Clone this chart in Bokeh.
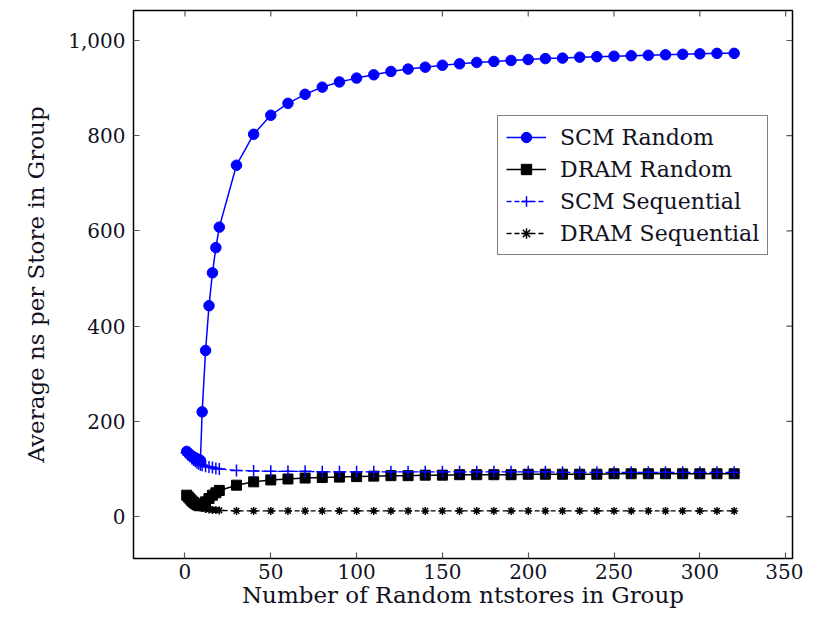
from bokeh.plotting import figure
from bokeh.models import Range1d, FixedTicker, NumeralTickFormatter
from bokeh.embed import file_html
from bokeh.resources import INLINE

# ---- data ----
x_small = [1, 2, 3, 4, 5, 6, 7, 8, 9, 10, 12, 14, 16, 18, 20]
x_large = [30, 40, 50, 60, 70, 80, 90, 100, 110, 120, 130, 140, 150, 160, 170,
           180, 190, 200, 210, 220, 230, 240, 250, 260, 270, 280, 290, 300, 310, 320]
x_vals = x_small + x_large

scm_random = [137, 133, 130, 127, 125, 123, 121, 120, 118, 220, 349, 443, 512, 565, 608,
              738, 803, 843, 868, 887, 902, 913, 921, 928, 935, 940, 944, 948, 951, 954,
              956, 958, 960, 962, 963, 965, 966, 967, 968, 969, 970, 971, 972, 973, 973]
dram_random = [45, 41, 37, 33, 30, 27, 25, 23, 23, 25, 31, 38, 45, 50, 55,
               66, 73, 77, 79, 81, 82, 83, 84, 85, 86, 86, 87, 87, 88, 88,
               88, 88, 89, 89, 89, 89, 89, 90, 90, 90, 90, 90, 90, 90, 90]
scm_seq = [134, 130, 126, 122, 119, 116, 113, 111, 109, 108, 106, 104, 103, 101, 100,
           97, 96, 95, 95, 95, 94, 94, 94, 94, 94, 94, 94, 94, 94, 94,
           94, 94, 94, 94, 93, 93, 93, 93, 93, 93, 93, 93, 93, 93, 93]
dram_seq = [40, 35, 31, 28, 25, 23, 21, 20, 19, 18, 16, 15, 14, 14, 13,
            12, 12, 12, 12, 12, 12, 12, 12, 12, 12, 12, 12, 12, 12, 12,
            12, 12, 12, 12, 12, 12, 12, 12, 12, 12, 12, 12, 12, 12, 12]

x_ticks = [0, 50, 100, 150, 200, 250, 300, 350]
y_ticks = [0, 200, 400, 600, 800, 1000]

FONT = "DejaVu Serif"
TXT = "#111122"

X0, X1 = -30, 354
Y0, Y1 = -88, 1063
W, H = 803, 611
BL, BR, BT, BB = 133, 11, 10, 53

p = figure(width=W, height=H, output_backend="svg", toolbar_location=None,
           x_range=Range1d(X0, X1), y_range=Range1d(Y0, Y1),
           min_border_left=BL, min_border_right=BR, min_border_top=BT, min_border_bottom=BB)

p.xgrid.visible = False
p.ygrid.visible = False
p.outline_line_color = "black"
p.outline_line_width = 1.5
p.background_fill_color = "white"
p.border_fill_color = "white"

for ax in (p.xaxis[0], p.yaxis[0]):
    ax.axis_line_color = None
    ax.major_tick_in = 6
    ax.major_tick_out = 0
    ax.minor_tick_line_color = None
    ax.major_tick_line_color = "#555555"
    ax.major_tick_line_width = 1.2
    ax.major_label_text_font = FONT
    ax.major_label_text_font_size = "20px"
    ax.major_label_text_color = TXT
    ax.axis_label_text_font = FONT
    ax.axis_label_text_font_size = "23px"
    ax.axis_label_text_font_style = "normal"
    ax.axis_label_text_color = TXT

p.xaxis[0].ticker = FixedTicker(ticks=x_ticks)
p.yaxis[0].ticker = FixedTicker(ticks=y_ticks)
p.yaxis[0].formatter = NumeralTickFormatter(format="0,0")
p.xaxis[0].axis_label = "Number of Random ntstores in Group"
p.yaxis[0].axis_label = "Average ns per Store in Group"
p.xaxis[0].major_label_standoff = 5
p.yaxis[0].major_label_standoff = 8
p.xaxis[0].axis_label_standoff = 0
p.yaxis[0].axis_label_standoff = 16

# mirrored inward ticks on top and right edges (lengths derived from range / frame size)
frame_w = W - BL - BR
frame_h = H - BT - BB
tick_px = 6
dy = tick_px * (Y1 - Y0) / frame_h
dx = tick_px * (X1 - X0) / frame_w
p.segment(x0=x_ticks, y0=[Y1] * len(x_ticks), x1=x_ticks, y1=[Y1 - dy] * len(x_ticks),
          line_color="#555555", line_width=1.2)
p.segment(x0=[X1] * len(y_ticks), y0=y_ticks, x1=[X1 - dx] * len(y_ticks), y1=y_ticks,
          line_color="#555555", line_width=1.2)

# SCM Random
p.line(x_vals, scm_random, line_color="blue", line_width=1.5, legend_label="SCM Random")
p.scatter(x_vals, scm_random, marker="circle", size=10.5, fill_color="blue",
          line_color="blue", legend_label="SCM Random")
# DRAM Random
p.line(x_vals, dram_random, line_color="black", line_width=1.5, legend_label="DRAM Random")
p.scatter(x_vals, dram_random, marker="square", size=10, fill_color="black",
          line_color="black", legend_label="DRAM Random")
# SCM Sequential
p.line(x_vals, scm_seq, line_color="blue", line_width=1.3, line_dash="5 3",
       legend_label="SCM Sequential")
p.scatter(x_vals, scm_seq, marker="cross", size=12, line_color="blue", line_width=1.5,
          legend_label="SCM Sequential")
# DRAM Sequential
p.line(x_vals, dram_seq, line_color="black", line_width=1.3, line_dash="5 3",
       legend_label="DRAM Sequential")
p.scatter(x_vals, dram_seq, marker="asterisk", size=8, line_color="black", line_width=1.5,
          legend_label="DRAM Sequential")

lg = p.legend[0]
lg.location = (364, 303)
lg.border_line_color = "black"
lg.border_line_width = 1.5
lg.background_fill_color = "white"
lg.background_fill_alpha = 1.0
lg.label_text_font = FONT
lg.label_text_font_size = "22px"
lg.label_text_color = TXT
lg.glyph_width = 40
lg.glyph_height = 26
lg.label_height = 26
lg.spacing = 6
lg.padding = 8
lg.margin = 0
lg.label_standoff = 14

open("out.html", "w").write(file_html(p, INLINE))
